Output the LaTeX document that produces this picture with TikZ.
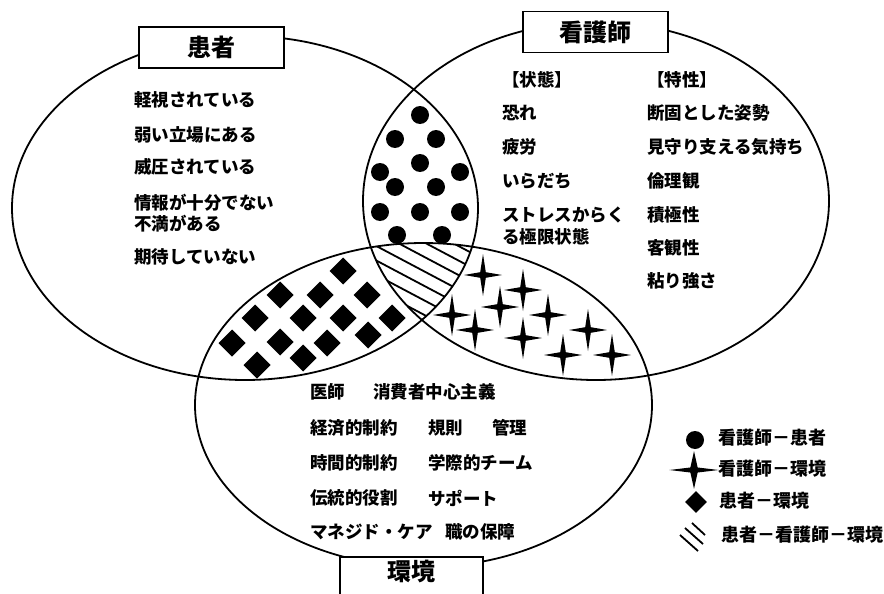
\documentclass[tikz,border=0pt]{standalone}
\usepackage{fontspec}
\IfFontExistsTF{Noto Sans CJK JP Black}
  {\setmainfont{Noto Sans CJK JP}[BoldFont={Noto Sans CJK JP Black}]}
  {\IfFontExistsTF{Noto Sans CJK JP Bold}
    {\setmainfont{Noto Sans CJK JP}[BoldFont={Noto Sans CJK JP Bold}]}
    {\setmainfont{Noto Sans CJK JP}[AutoFakeBold=2]}}
\tikzset{
  venn/.style={line width=1.8pt},
  tbox/.style={draw, line width=1.6pt, fill=white, minimum width=145pt, minimum height=41pt, inner sep=0pt},
  ttext/.style={inner sep=0pt, font=\fontsize{24}{24}\selectfont\bfseries},
  body/.style={anchor=west, inner sep=0pt, font=\fontsize{17.5}{21}\selectfont\bfseries},
  legtext/.style={anchor=west, inner sep=0pt, font=\fontsize{18}{20}\selectfont\bfseries},
  hatchline/.style={line width=1.8pt},
  starpic/.pic={\fill (0,-21)--(2.8,-2.8)--(19,0)--(2.8,2.8)--(0,21)--(-2.8,2.8)--(-19,0)--(-2.8,-2.8)--cycle;},
  diapic/.pic={\fill (0,-13.5)--(13.5,0)--(0,13.5)--(-13.5,0)--cycle;},
}
\begin{document}
\begin{tikzpicture}[x=1pt,y=-1pt]
\useasboundingbox (0,0) rectangle (884,594);
\fill[white] (0,0) rectangle (884,594);

% hatch in the common region
\begin{scope}
  \clip (245,208) ellipse [x radius=233pt, y radius=172pt];
  \clip (596,201) ellipse [x radius=233pt, y radius=179pt];
  \clip (423.5,405) ellipse [x radius=228.5pt, y radius=162pt];
  \foreach \k in {0,...,7} {
    \draw[hatchline] (330,{178+\k*14.5}) -- (500,{178+\k*14.5+90});
  }
\end{scope}

% sets
\draw[venn] (245,208) ellipse [x radius=233pt, y radius=172pt];
\draw[venn] (596,201) ellipse [x radius=233pt, y radius=179pt];
\draw[venn] (423.5,405) ellipse [x radius=228.5pt, y radius=162pt];

% dots: nurse - patient
\foreach \p in {(420,115),(395,139),(436,139),(420,163),(380,172),(460,172),(395,187),(436,187),(380,212),(420,212),(460,212),(397,235),(442,235)} {
  \fill \p circle[radius=9pt];
}
% diamonds: patient - environment
\foreach \p in {(343,271),(280,295),(320,295),(367,295),(255,318),(303,318),(343,318),(392,318),(232,343),(280,342),(327,343),(368,335),(257,365),(303,358)} {
  \pic at \p {diapic};
}
% stars: nurse - environment
\foreach \p in {(483,275),(523,290),(500,307),(452,315),(548,315),(475,330),(523,338),(588,330),(563,355),(612,355)} {
  \pic at \p {starpic};
}

% title boxes
\node[tbox] (patientbox) at (211.5,47.5) {};
\node[ttext] (patienttitle) at (211.5,47.5) {患者};
\node[tbox] (nursebox) at (595.5,32) {};
\node[ttext] (nursetitle) at (595.5,32) {看護師};
\node[tbox, minimum width=143pt, minimum height=44pt] (envbox) at (411.5,579) {};
\node[ttext] (envtitle) at (411.5,571) {環境};

% patient texts
\node[body] (pa1) at (134,100) {軽視されている};
\node[body] (pa2) at (134,135) {弱い立場にある};
\node[body] (pa3) at (134,167) {威圧されている};
\node[body] (pa4) at (134,203) {情報が十分でない};
\node[body] (pa5) at (134,224) {不満がある};
\node[body] (pa6) at (134,257) {期待していない};

% nurse texts
\node[body] (ns0) at (502,80) {【状態】};
\node[body] (ns1) at (502,113) {恐れ};
\node[body] (ns2) at (502,147) {疲労};
\node[body] (ns3) at (502,181) {いらだち};
\node[body] (ns4) at (502,215) {ストレスからく};
\node[body] (ns5) at (502,237) {る極限状態};
\node[body] (nc0) at (647,80) {【特性】};
\node[body] (nc1) at (647,113) {断固とした姿勢};
\node[body] (nc2) at (647,147) {見守り支える気持ち};
\node[body] (nc3) at (647,181) {倫理観};
\node[body] (nc4) at (647,215) {積極性};
\node[body] (nc5) at (647,248) {客観性};
\node[body] (nc6) at (647,281) {粘り強さ};

% environment texts
\node[body] (en1a) at (310,392) {医師};
\node[body] (en1b) at (373,392) {消費者中心主義};
\node[body] (en2a) at (310,428) {経済的制約};
\node[body] (en2b) at (428,428) {規則};
\node[body] (en2c) at (492,428) {管理};
\node[body] (en3a) at (310,463) {時間的制約};
\node[body] (en3b) at (428,463) {学際的チーム};
\node[body] (en4a) at (310,498) {伝統的役割};
\node[body] (en4b) at (428,498) {サポート};
\node[body] (en5a) at (310,532) {マネジド・ケア};
\node[body] (en5b) at (445,532) {職の保障};

% legend
\fill (695,440) circle[radius=9pt];
\node[legtext] (lg1) at (718,438) {看護師－患者};
\pic[xscale=1.3,yscale=0.9] at (694,470) {starpic};
\node[legtext] (lg2) at (718,469) {看護師－環境};
\pic[scale=0.8] at (696,502) {diapic};
\node[legtext] (lg3) at (719,501) {患者－環境};
\draw[hatchline] (692,523) -- (705,535);
\draw[hatchline] (685,528) -- (703,544);
\draw[hatchline] (680,535) -- (698,551);
\node[legtext] (lg4) at (721,535) {患者－看護師－環境};
\end{tikzpicture}
\end{document}
